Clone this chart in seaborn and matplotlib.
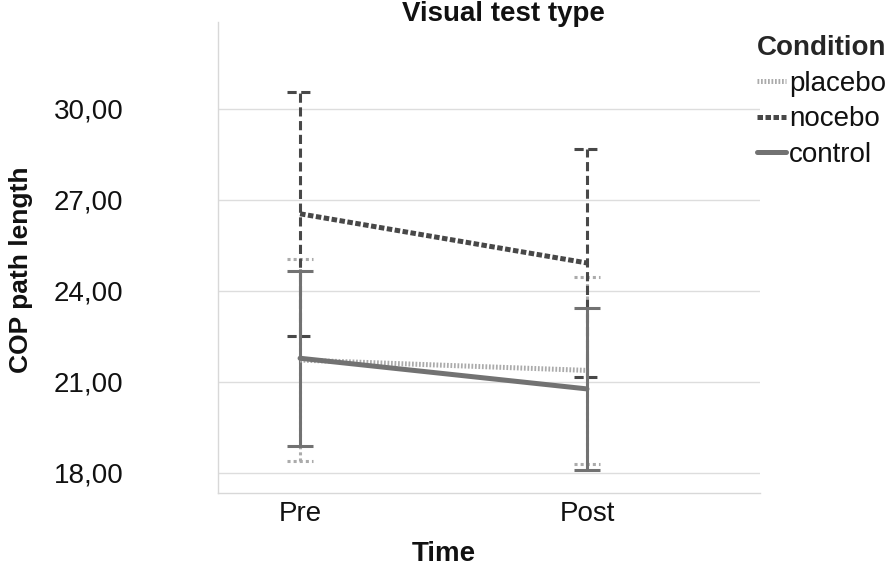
import numpy as np
import pandas as pd
import matplotlib
matplotlib.use("Agg")
import matplotlib.pyplot as plt
from matplotlib.lines import Line2D
import seaborn as sns

# values
times = ["Pre", "Post"]
conditions = ["placebo", "nocebo", "control"]
placebo_mean = [21.72, 21.38]
nocebo_mean = [26.54, 24.92]
control_mean = [21.78, 20.77]
placebo_err = [3.33, 3.08]
nocebo_err = [4.02, 3.76]
control_err = [2.88, 2.67]

means = {"placebo": placebo_mean, "nocebo": nocebo_mean, "control": control_mean}
errs = {"placebo": placebo_err, "nocebo": nocebo_err, "control": control_err}

df = pd.DataFrame([
    {"Time": t, "Condition": c, "COP": means[c][i]}
    for c in conditions for i, t in enumerate(times)
])

colors = {"placebo": "#ababab", "nocebo": "#484848", "control": "#727272"}
dashes = {"placebo": (0.35, 0.35), "nocebo": (1.1, 0.5), "control": ""}
err_ls = {"placebo": (0, (1, 1)), "nocebo": (0, (3, 1.5)), "control": "-"}

sns.set_theme(style="white")
plt.rcParams["font.family"] = ["Liberation Sans", "DejaVu Sans"]

fig = plt.figure(figsize=(8.96, 5.69), dpi=100)
ax = fig.add_axes([218 / 896, 1 - 493 / 569, 542 / 896, 471 / 569])

sns.lineplot(data=df, x="Time", y="COP", hue="Condition", style="Condition",
             hue_order=conditions, style_order=conditions, palette=colors,
             dashes=dashes, linewidth=3.6, sort=False, ax=ax, legend=False)

# error bars
for c in conditions:
    x = np.arange(len(times))
    m = np.array(means[c])
    e = np.array(errs[c])
    ax.vlines(x, m - e, m + e, colors=colors[c], linestyles=err_ls[c], lw=2.2, zorder=1)
    for lim in (m - e, m + e):
        ax.hlines(lim, x - 0.045, x + 0.045, colors=colors[c], linestyles=err_ls[c], lw=2.2, zorder=1)

ax.set_xlim(-0.286, 1.603)
ax.set_ylim(17.34, 32.86)
ax.set_yticks([18, 21, 24, 27, 30])
ax.set_yticklabels([f"{v:.2f}".replace(".", ",") for v in [18, 21, 24, 27, 30]])
ax.tick_params(axis="both", labelsize=20, length=0, colors="#111111")
ax.tick_params(axis="y", pad=68)
ax.tick_params(axis="x", pad=6)
ax.yaxis.grid(True, color="#dddddd", lw=1)
for s in ["top", "right"]:
    ax.spines[s].set_visible(False)
for s in ["left", "bottom"]:
    ax.spines[s].set_color("#d8d8d8")
    ax.spines[s].set_linewidth(1)

ax.set_xlabel("Time", fontsize=20, fontweight="bold", color="#111111")
ax.xaxis.label.set_va("center")
ax.xaxis.set_label_coords((444 - 218) / 542, (493 - 554) / 471)
ax.set_ylabel("COP path length", fontsize=19, fontweight="bold", color="#111111")
ax.yaxis.label.set_va("center")
ax.yaxis.set_label_coords((21 - 218) / 542, (493 - 270) / 471)

fig.text(503 / 896, 1 - 14 / 569, "Visual test type", fontsize=20, fontweight="bold",
         ha="center", va="center", color="#111111")

# legend
handles = [Line2D([], [], color=colors[c], lw=3.6,
                  dashes=dashes[c] if dashes[c] else (None, None))
           for c in conditions]
leg = fig.legend(handles, conditions, loc="upper left", bbox_to_anchor=(757 / 896, 1 - 35 / 569),
                 frameon=False, fontsize=20, title="Condition", handlelength=1.05,
                 handletextpad=0.1, labelspacing=0.35, borderaxespad=0, borderpad=0)
leg.get_title().set_fontweight("bold")
leg.get_title().set_fontsize(20)
leg._legend_box.align = "left"
for t in leg.get_texts():
    t.set_color("#111111")

fig.savefig("out.png", dpi=100)
